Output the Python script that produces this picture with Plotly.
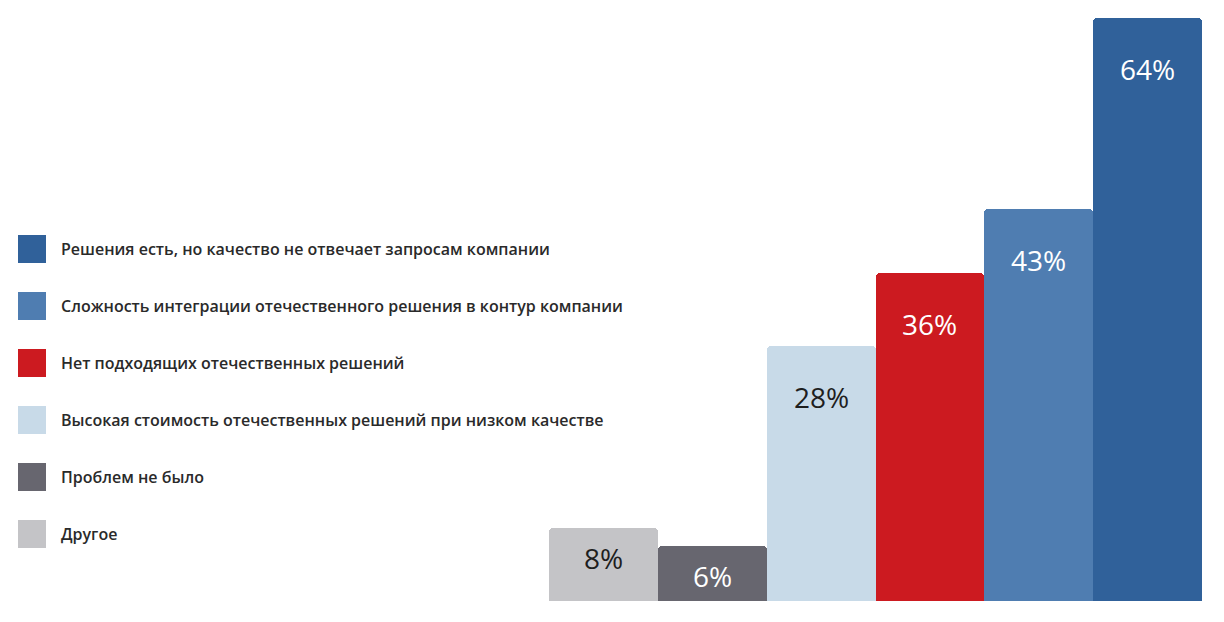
import plotly.graph_objects as go

categories = [
    "Другое",
    "Проблем не было",
    "Высокая стоимость отечественных решений при низком качестве",
    "Нет подходящих отечественных решений",
    "Сложность интеграции отечественного решения в контур компании",
    "Решения есть, но качество не отвечает запросам компании",
]
values = [8, 6, 28, 36, 43, 64]
colors = ["#c4c4c7", "#67666f", "#c8dae8", "#cc1a20", "#4f7db1", "#30619a"]
label_colors = ["#1e1e1e", "#ffffff", "#1e1e1e", "#ffffff", "#ffffff", "#ffffff"]
legend_order = [5, 4, 3, 2, 1, 0]

W, H = 1224, 622
fig = go.Figure()
fig.add_trace(go.Bar(
    x=categories, y=values, marker=dict(color=colors, line=dict(width=0)),
    width=1.0, showlegend=False, hoverinfo="x+y",
))

annotations = []
for c, v, tc in zip(categories, values, label_colors):
    annotations.append(dict(
        x=c, y=v, xref="x", yref="y", text=f"{v}%", showarrow=False,
        yshift=-30 if v < 10 else -51, yanchor="middle",
        font=dict(family="Open Sans", size=28, color=tc),
    ))

shapes = []
for i, idx in enumerate(legend_order):
    cy = 249 + i * 57
    shapes.append(dict(
        type="rect", xref="paper", yref="paper",
        x0=18 / W, x1=46 / W, y0=1 - (cy + 14) / H, y1=1 - (cy - 14) / H,
        fillcolor=colors[idx], line=dict(width=0),
    ))
    annotations.append(dict(
        x=59 / W, y=1 - cy / H, xref="paper", yref="paper", xanchor="left",
        yanchor="middle", text=categories[idx], showarrow=False,
        font=dict(family="Open Sans", size=16, color="#2a2a2a", weight=600),
    ))

fig.update_layout(
    width=W, height=H, margin=dict(l=0, r=0, t=0, b=0),
    paper_bgcolor="white", plot_bgcolor="white",
    bargap=0, barcornerradius=4,
    xaxis=dict(domain=[549 / W, 1202 / W], showticklabels=False, showgrid=False,
               zeroline=False, showline=False, ticks=""),
    yaxis=dict(domain=[21 / H, 1], range=[0, 64 * 601 / 583], showticklabels=False,
               showgrid=False, zeroline=False, showline=False, ticks=""),
    shapes=shapes, annotations=annotations,
)
fig.write_html("out.html")
